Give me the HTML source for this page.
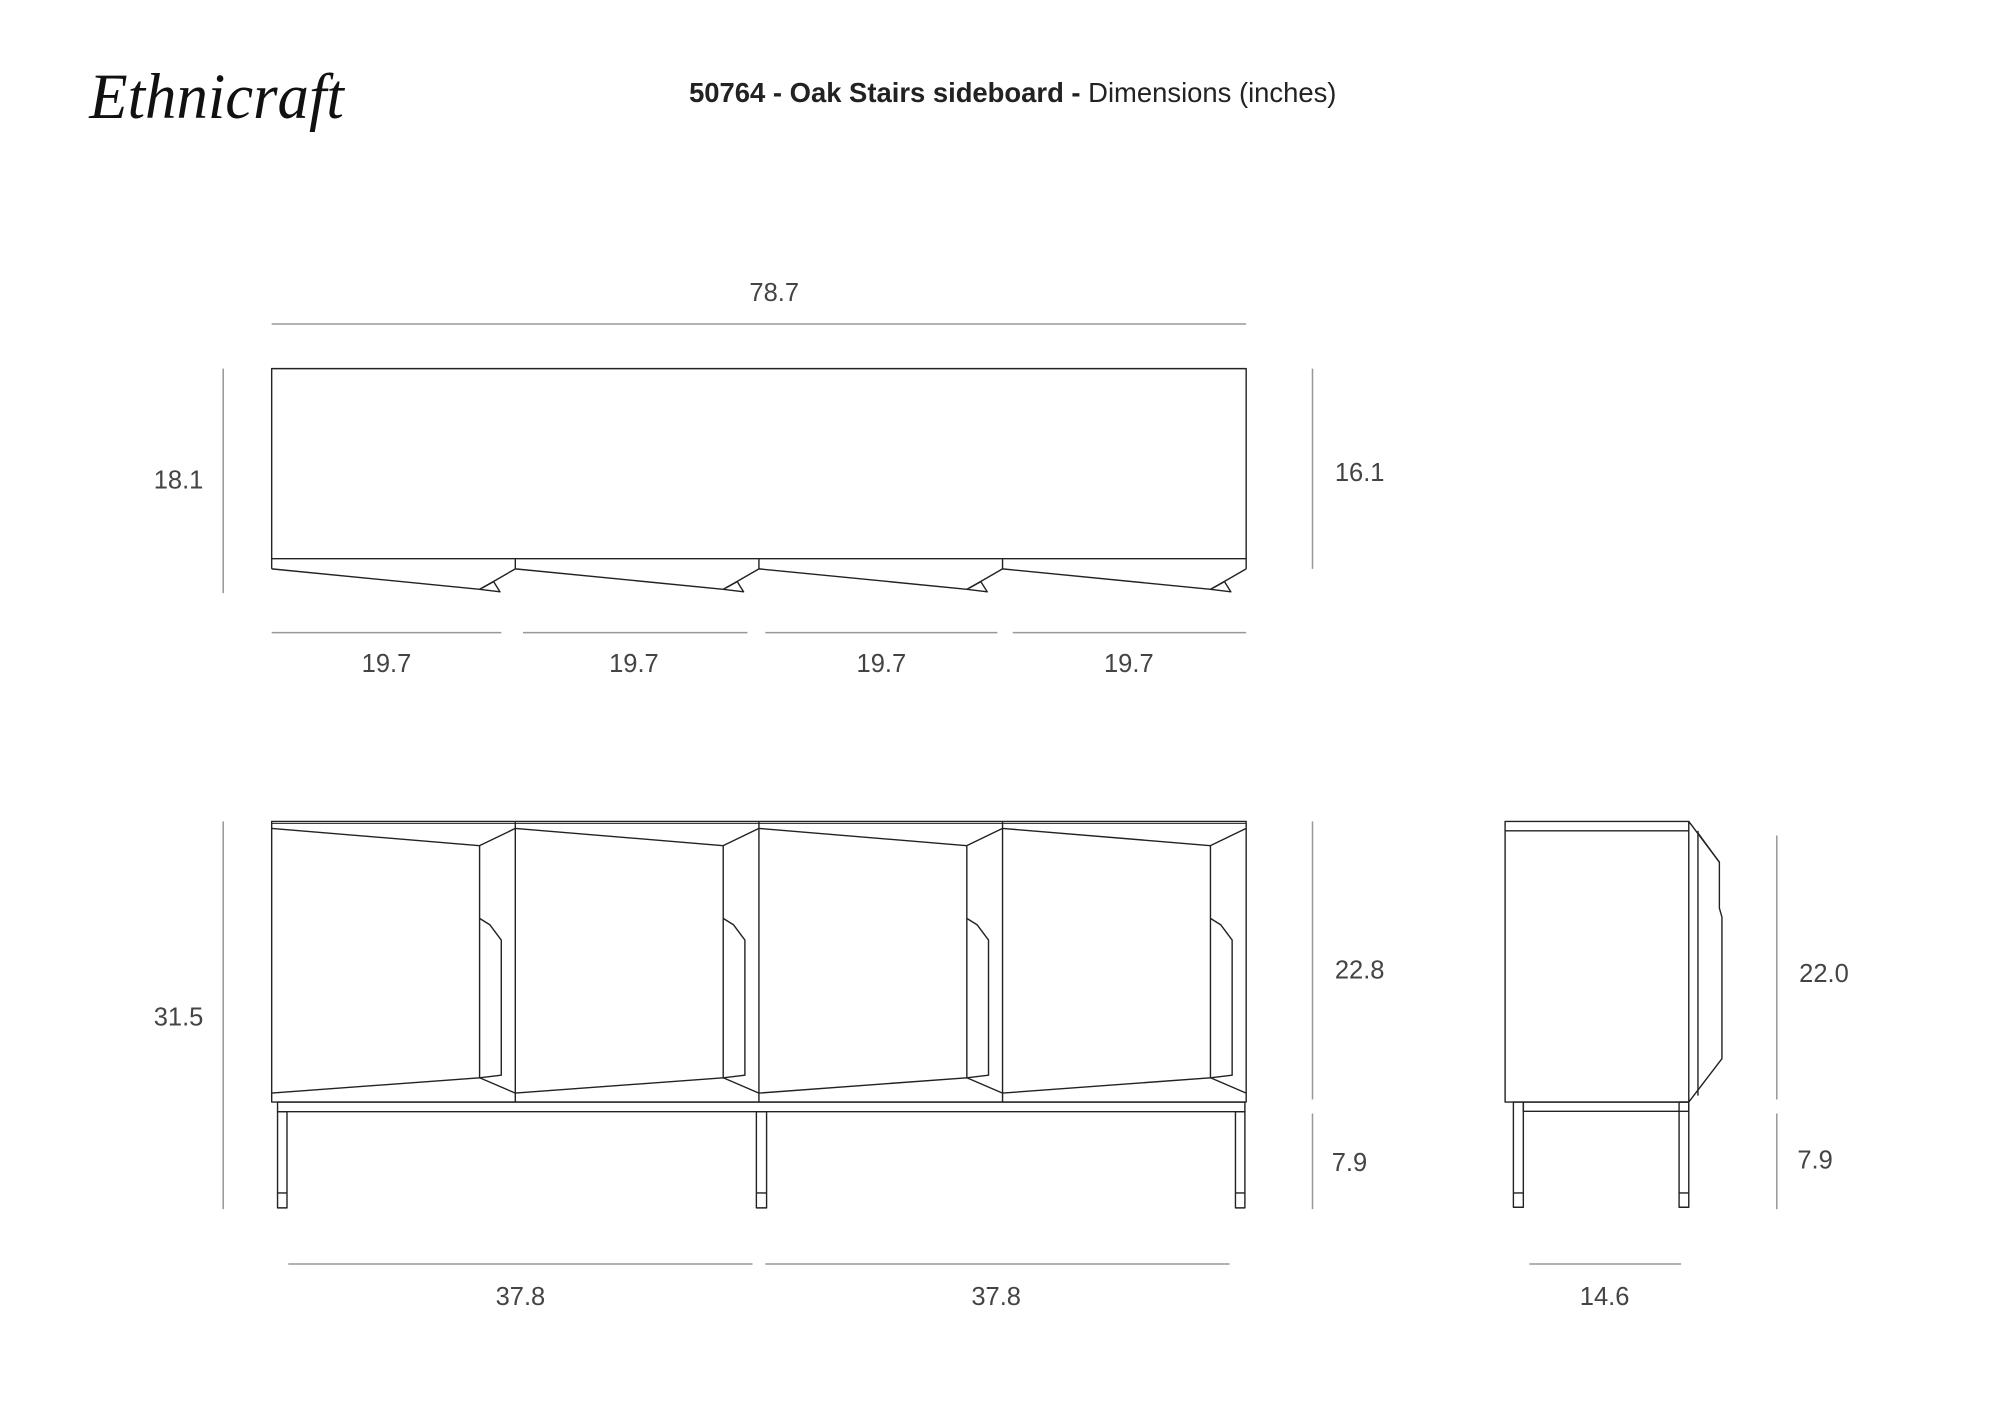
<!DOCTYPE html>
<html><head><meta charset="utf-8"><style>
html,body{margin:0;padding:0;background:#fff;}
svg{display:block;}
text{font-family:"Liberation Sans",sans-serif;}
</style></head><body>
<svg width="2000" height="1414" viewBox="0 0 1568 1108.6" preserveAspectRatio="none" xmlns="http://www.w3.org/2000/svg">
<rect width="1568" height="1110" fill="#fff"/>
<text x="70" y="92" font-style="italic" font-size="46" fill="#111" style="font-family:'Liberation Serif',serif" transform="translate(70,0) scale(1.07,1.1) translate(-70,-8)">Ethnicraft</text>
<text x="794" y="80" text-anchor="middle" font-size="21.5" fill="#222"><tspan font-weight="bold">50764 - Oak Stairs sideboard - </tspan>Dimensions (inches)</text>

<g fill="none" stroke="#999" stroke-width="1.2">
<line x1="213" y1="254" x2="977" y2="254"/>
<line x1="175" y1="289" x2="175" y2="465"/>
<line x1="1029" y1="289" x2="1029" y2="446"/>
<line x1="213" y1="496" x2="393" y2="496"/>
<line x1="410" y1="496" x2="586" y2="496"/>
<line x1="600" y1="496" x2="782" y2="496"/>
<line x1="794" y1="496" x2="977" y2="496"/>
<line x1="175" y1="644" x2="175" y2="948"/>
<line x1="1029" y1="644" x2="1029" y2="862"/>
<line x1="1029" y1="873" x2="1029" y2="948"/>
<line x1="226" y1="991" x2="590" y2="991"/>
<line x1="600" y1="991" x2="964" y2="991"/>
<line x1="1393" y1="655" x2="1393" y2="862"/>
<line x1="1393" y1="873" x2="1393" y2="948"/>
<line x1="1199" y1="991" x2="1318" y2="991"/>
</g>
<g font-size="20" fill="#444" text-anchor="middle">
<text x="607" y="236">78.7</text>
<text x="140" y="383">18.1</text>
<text x="1066" y="377">16.1</text>
<text x="303" y="527">19.7</text>
<text x="497" y="527">19.7</text>
<text x="691" y="527">19.7</text>
<text x="885" y="527">19.7</text>
<text x="140" y="804">31.5</text>
<text x="1066" y="767">22.8</text>
<text x="1058" y="918">7.9</text>
<text x="408" y="1023">37.8</text>
<text x="781" y="1023">37.8</text>
<text x="1430" y="770">22.0</text>
<text x="1423" y="916">7.9</text>
<text x="1258" y="1023">14.6</text>
</g>

<g fill="none" stroke="#222" stroke-width="1.1" stroke-linejoin="round">
<rect x="213" y="289" width="764" height="149"/>
<line x1="213" y1="438" x2="213" y2="446"/>
<line x1="977" y1="438" x2="977" y2="446"/>
<line x1="404" y1="438" x2="404" y2="446"/>
<line x1="595" y1="438" x2="595" y2="446"/>
<line x1="786" y1="438" x2="786" y2="446"/>
<g id="bay">
<polyline points="213,446 376,462 392,464 387,456"/>
<line x1="376" y1="462" x2="387" y2="456"/>
<line x1="404" y1="446" x2="378" y2="461"/>
</g>
<use href="#bay" transform="translate(191,0)"/>
<use href="#bay" transform="translate(382,0)"/>
<use href="#bay" transform="translate(573,0)"/>

<rect x="213" y="644" width="764" height="220"/>
<line x1="213" y1="645.5" x2="977" y2="645.5" stroke-width="0.8"/>
<g id="door">
<line x1="404" y1="644" x2="404" y2="864"/>
<polyline points="213,649.5 376,663 404,649.5"/>
<polyline points="213,857 376,845 404,857"/>
<line x1="376" y1="663" x2="376" y2="845"/>
<polyline points="376,720 384,725 393,737 393,843 376,845"/>
</g>
<use href="#door" transform="translate(191,0)"/>
<use href="#door" transform="translate(382,0)"/>
<g transform="translate(573,0)">
<polyline points="213,649.5 376,663 404,649.5"/>
<polyline points="213,857 376,845 404,857"/>
<line x1="376" y1="663" x2="376" y2="845"/>
<polyline points="376,720 384,725 393,737 393,843 376,845"/>
</g>
<rect x="217.6" y="864" width="758.4" height="7.6"/>
<rect x="217.6" y="871.6" width="7.4" height="75.4"/>
<line x1="217.6" y1="935.3" x2="225" y2="935.3"/>
<rect x="593" y="871.6" width="8" height="75.4"/>
<line x1="593" y1="935.3" x2="601" y2="935.3"/>
<rect x="968.6" y="871.6" width="7.4" height="75.4"/>
<line x1="968.6" y1="935.3" x2="976" y2="935.3"/>

<rect x="1180" y="644" width="144" height="220"/>
<line x1="1180" y1="651.4" x2="1324" y2="651.4"/>
<line x1="1331.2" y1="651.4" x2="1331.2" y2="859"/>
<polyline points="1324,644 1348,676 1348,712 1350,719 1350,830 1324,864"/>
<line x1="1331.2" y1="653" x2="1348" y2="676"/>
<rect x="1194.3" y="864" width="129.7" height="7.3"/>
<rect x="1186.5" y="864" width="7.8" height="82.5"/>
<line x1="1186.5" y1="935.3" x2="1194.3" y2="935.3"/>
<rect x="1316.4" y="864" width="7.6" height="82.5"/>
<line x1="1316.4" y1="935.3" x2="1324" y2="935.3"/>
</g>
</svg>
</body></html>
